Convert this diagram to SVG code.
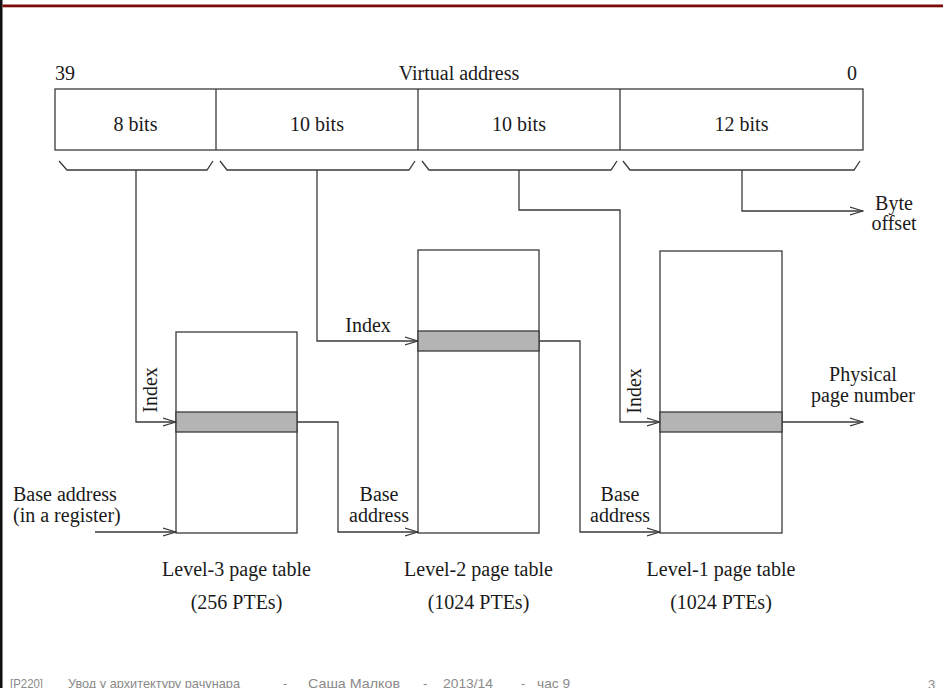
<svg xmlns="http://www.w3.org/2000/svg" width="943" height="688" viewBox="0 0 943 688">
<style>
.t{font-family:"Liberation Serif","Times New Roman",serif;font-size:20px;fill:#1a1a1a}
.m{text-anchor:middle}
.ln{fill:none;stroke:#3a3a3a;stroke-width:1.3}
.box{fill:#fff;stroke:#3a3a3a;stroke-width:1.3}
.band{fill:#b4b4b4;stroke:#3a3a3a;stroke-width:1.3}
.f{font-family:"Liberation Sans","DejaVu Sans",sans-serif;font-size:13px;fill:#8a8a8a}
</style>
<defs>
<marker id="arr" viewBox="0 0 14 10" refX="13" refY="5" markerWidth="14" markerHeight="10" markerUnits="userSpaceOnUse" orient="auto">
<path d="M0,1 L13,5 L0,9" fill="none" stroke="#3a3a3a" stroke-width="1.2"/>
</marker>
</defs>
<rect width="943" height="688" fill="#fff"/>
<rect x="0" y="0" width="2.5" height="688" fill="#111"/>
<rect x="2.5" y="4.5" width="940.5" height="2.8" fill="#7d0a0a"/>

<g id="virtual-address">
<text class="t" x="55" y="80">39</text>
<text class="t m" x="459" y="80">Virtual address</text>
<text class="t" x="857" y="80" text-anchor="end">0</text>
<rect class="box" x="55" y="89" width="808" height="61"/>
<line class="ln" x1="216" y1="89" x2="216" y2="150"/>
<line class="ln" x1="418" y1="89" x2="418" y2="150"/>
<line class="ln" x1="620" y1="89" x2="620" y2="150"/>
<text class="t m" x="135.5" y="131">8 bits</text>
<text class="t m" x="317" y="131">10 bits</text>
<text class="t m" x="519" y="131">10 bits</text>
<text class="t m" x="741.5" y="131">12 bits</text>
<path class="ln" d="M59,161 L67,170 L207,170 L213,161"/>
<path class="ln" d="M220,161 L227,170 L409,170 L415,161"/>
<path class="ln" d="M422,161 L429,170 L611,170 L617,161"/>
<path class="ln" d="M623,161 L630,170 L854,170 L860,161"/>
</g>

<g id="level3-table">
<rect class="box" x="176" y="332" width="121" height="201"/>
<rect class="band" x="176" y="412" width="121" height="20"/>
<text class="t m" x="236.5" y="576">Level-3 page table</text>
<text class="t m" x="236.5" y="609">(256 PTEs)</text>
</g>

<g id="level2-table">
<rect class="box" x="418" y="250" width="121" height="283"/>
<rect class="band" x="418" y="331" width="121" height="20"/>
<text class="t m" x="478.5" y="576">Level-2 page table</text>
<text class="t m" x="478.5" y="609">(1024 PTEs)</text>
</g>

<g id="level1-table">
<rect class="box" x="660" y="251" width="122" height="282"/>
<rect class="band" x="660" y="412" width="122" height="20"/>
<text class="t m" x="721" y="576">Level-1 page table</text>
<text class="t m" x="721" y="609">(1024 PTEs)</text>
</g>

<g id="connectors">
<path class="ln" d="M136,170 L136,422 L176,422" marker-end="url(#arr)"/>
<path class="ln" d="M317,170 L317,341 L418,341" marker-end="url(#arr)"/>
<path class="ln" d="M519,170 L519,210 L620,210 L620,422 L660,422" marker-end="url(#arr)"/>
<path class="ln" d="M742,170 L742,211 L863,211" marker-end="url(#arr)"/>
<path class="ln" d="M95,532 L176,532" marker-end="url(#arr)"/>
<path class="ln" d="M297,422 L338,422 L338,532 L418,532" marker-end="url(#arr)"/>
<path class="ln" d="M539,341 L580,341 L580,532 L660,532" marker-end="url(#arr)"/>
<path class="ln" d="M782,422 L863,422" marker-end="url(#arr)"/>
</g>

<g id="labels">
<text class="t m" transform="translate(157,390) rotate(-90)">Index</text>
<text class="t m" x="368" y="332">Index</text>
<text class="t m" transform="translate(641,391) rotate(-90)">Index</text>
<text class="t" x="13" y="501">Base address</text>
<text class="t" x="13" y="522">(in a register)</text>
<text class="t m" x="379" y="501">Base</text>
<text class="t m" x="379" y="522">address</text>
<text class="t m" x="620" y="501">Base</text>
<text class="t m" x="620" y="522">address</text>
<text class="t m" x="894" y="210">Byte</text>
<text class="t m" x="894" y="230">offset</text>
<text class="t m" x="863" y="381">Physical</text>
<text class="t m" x="863" y="402">page number</text>
</g>

<g id="footer">
<text class="f" x="10" y="688" textLength="33" lengthAdjust="spacingAndGlyphs">[P220]</text>
<text class="f" x="68" y="688" textLength="172" lengthAdjust="spacingAndGlyphs">Увод у архитектуру рачунара</text>
<text class="f" x="283" y="688">-</text>
<text class="f" x="308" y="688" textLength="92" lengthAdjust="spacingAndGlyphs">Саша Малков</text>
<text class="f" x="423" y="688">-</text>
<text class="f" x="443" y="688" textLength="50" lengthAdjust="spacingAndGlyphs">2013/14</text>
<text class="f" x="521" y="688">-</text>
<text class="f" x="537" y="688" textLength="33" lengthAdjust="spacingAndGlyphs">час 9</text>
<text class="f" x="928" y="689">3</text>
</g>
</svg>
